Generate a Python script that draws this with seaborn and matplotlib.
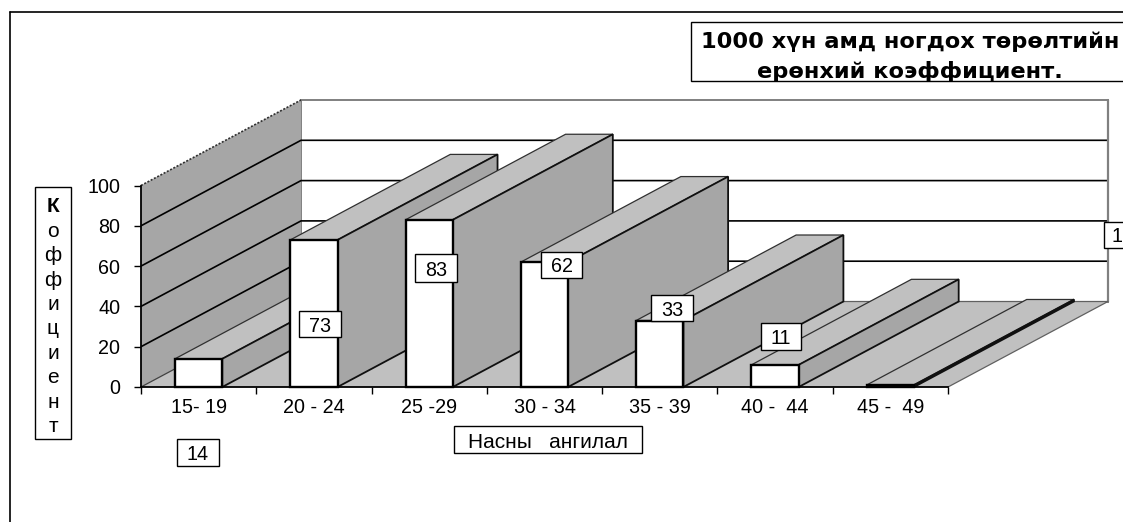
import matplotlib
matplotlib.use("Agg")
import matplotlib.pyplot as plt
from matplotlib.patches import Polygon, Rectangle
import pandas as pd
import seaborn as sns

age_groups = ["15- 19", "20 - 24", "25 -29", "30 - 34", "35 - 39", "40 -  44", "45 -  49"]
rates = [14, 73, 83, 62, 33, 11, 1]
y_ticks = [0, 20, 40, 60, 80, 100]
title_lines = ["1000 хүн амд ногдох төрөлтийн", "ерөнхий коэффициент."]
x_title = "Насны   ангилал"
y_title = "Коффициент"

W, H = 1123, 522
DEPTH_X = 160 / 115.3   # depth offset in category units
DEPTH_Y = 85.5 / 2.015  # depth offset in value units
FLOOR = "#C0C0C0"
WALL = "#A6A6A6"
TICK_SIZE = 14.2

sns.set_theme(style="white")
plt.rcParams["font.family"] = ["Liberation Sans", "DejaVu Sans"]
fig = plt.figure(figsize=(W / 100, H / 100), dpi=100, facecolor="white")


def fx(px):
    return px / W


def fy(py):
    return 1 - py / H


ax = fig.add_axes([fx(141), fy(387), fx(948) - fx(141), fy(185.5) - fy(387)])
ax.patch.set_visible(False)
df = pd.DataFrame({"age": age_groups, "rate": rates})
sns.barplot(data=df, x="age", y="rate", color="white", saturation=1, width=0.41,
            edgecolor="black", linewidth=1.7, ax=ax)
x0, x1 = -0.5, len(age_groups) - 0.5
top = y_ticks[-1]
ax.set_xlim(x0, x1)
ax.set_ylim(0, top)


def poly(points, face, edge="none", lw=0.0, z=1.0, ls="-"):
    ax.add_patch(Polygon(points, closed=True, facecolor=face, edgecolor=edge,
                         linewidth=lw, linestyle=ls, zorder=z, clip_on=False))


# walls and floor
poly([(x0 + DEPTH_X, DEPTH_Y), (x1 + DEPTH_X, DEPTH_Y), (x1 + DEPTH_X, top + DEPTH_Y),
      (x0 + DEPTH_X, top + DEPTH_Y)], "white", "#808080", 1.4, z=0.5)
poly([(x0, 0), (x0 + DEPTH_X, DEPTH_Y), (x0 + DEPTH_X, top + DEPTH_Y), (x0, top)], WALL, z=0.6)
poly([(x0, 0), (x1, 0), (x1 + DEPTH_X, DEPTH_Y), (x0 + DEPTH_X, DEPTH_Y)], FLOOR, z=1.5)
ax.plot([x1, x1 + DEPTH_X, x0 + DEPTH_X], [0, DEPTH_Y, DEPTH_Y], color="#606060", lw=0.9, zorder=1.6, clip_on=False)
ax.plot([x0, x0 + DEPTH_X], [0, DEPTH_Y], color="#404040", lw=0.9, zorder=1.6, clip_on=False)

# gridlines over side wall and back wall
for v in y_ticks:
    if 0 < v < top:
        ax.plot([x0, x0 + DEPTH_X, x1 + DEPTH_X], [v, v + DEPTH_Y, v + DEPTH_Y],
                color="black", lw=1.2, zorder=1, clip_on=False, solid_capstyle="butt")
ax.plot([x0, x0 + DEPTH_X], [top, top + DEPTH_Y], color="#303030", lw=1.2, ls=(0, (1.2, 1)), zorder=1, clip_on=False)
ax.plot([x1 + DEPTH_X, x1 + DEPTH_X], [DEPTH_Y, top + DEPTH_Y], color="#808080", lw=1.6, zorder=1, clip_on=False)

# bars: fronts from seaborn, top and side faces derived from each front
for i, bar in enumerate(ax.containers[0]):
    left, right, h = bar.get_x(), bar.get_x() + bar.get_width(), bar.get_height()
    z = 3 + i
    poly([(left, h), (right, h), (right + DEPTH_X, h + DEPTH_Y), (left + DEPTH_X, h + DEPTH_Y)],
         FLOOR, "#303030", 0.9, z=z)
    poly([(right, 0), (right + DEPTH_X, DEPTH_Y), (right + DEPTH_X, h + DEPTH_Y), (right, h)],
         WALL, "#101010", 1.3, z=z)
    bar.set_zorder(z + 0.5)
    bar.set_clip_on(False)

# axes
sns.despine(ax=ax, top=True, right=True)
for s in ("left", "bottom"):
    ax.spines[s].set_color("black")
    ax.spines[s].set_linewidth(1.3)
    ax.spines[s].set_zorder(20)
ax.set_xlabel("")
ax.set_ylabel("")
ax.set_yticks(y_ticks)
ax.set_yticklabels([str(v) for v in y_ticks])
ax.set_xticks(range(len(age_groups)))
ax.set_xticklabels(age_groups)
ax.set_xticks([x0 + k for k in range(len(age_groups) + 1)], minor=True)
ax.tick_params(axis="x", which="major", length=0, pad=8, labelsize=TICK_SIZE, labelcolor="black")
ax.tick_params(axis="x", which="minor", length=5, width=1, color="black", bottom=True)
ax.tick_params(axis="y", length=5, width=1, color="black", left=True, pad=10, labelsize=TICK_SIZE, labelcolor="black")


def box(l, t, r, b, lw=1.0):
    fig.add_artist(Rectangle((fx(l), fy(b)), fx(r) - fx(l), fy(t) - fy(b), transform=fig.transFigure,
                             facecolor="white", edgecolor="black", linewidth=lw, zorder=5, clip_on=False))


def label(x, y, s, size=TICK_SIZE, weight="normal", family=None):
    t = fig.text(fx(x), fy(y), s, ha="center", va="center_baseline", fontsize=size, color="black",
                 fontweight=weight, zorder=6)
    if family:
        t.set_family(family)
    return t


# chart frame
fig.add_artist(plt.Line2D([fx(10), fx(10)], [0, fy(12)], color="black", lw=1.2, zorder=4))
fig.add_artist(plt.Line2D([fx(10), 1], [fy(12), fy(12)], color="black", lw=1.2, zorder=4))

# title
box(691, 22, 1130, 81)
label(910, 40, title_lines[0], size=16.2, weight="bold", family="DejaVu Sans")
label(910, 69, title_lines[1], size=16.2, weight="bold", family="DejaVu Sans")

# axis titles
box(454, 426, 642, 453)
label(548, 440, x_title, size=15)
box(35, 187, 71, 439)
for k, ch in enumerate(y_title):
    label(53, 205 + k * 24.4, ch, size=15, weight="bold" if k == 0 else "normal")

# value labels (boxes as placed on the chart)
label_boxes = [(177, 439, 219, 466), (299, 311, 341, 337), (415, 254, 457, 282),
               (541, 252, 582, 278), (651, 295, 693, 321), (761, 323, 801, 350), (1104, 222, 1130, 248)]
for v, (l, t, r, b) in zip(rates, label_boxes):
    box(l, t, r, b)
    label((l + r) / 2, (t + b) / 2, str(v))

fig.savefig("out.png", dpi=100)
